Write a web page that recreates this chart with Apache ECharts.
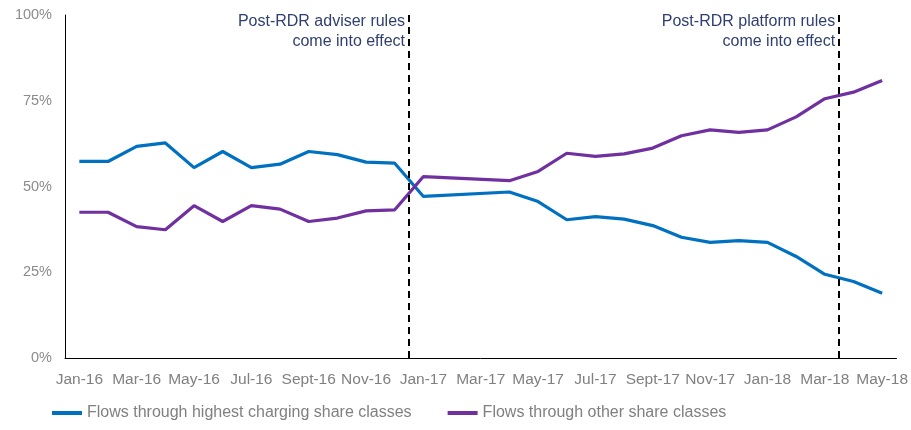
<!DOCTYPE html>
<html>
<head>
<meta charset="utf-8">
<script src="https://cdn.jsdelivr.net/npm/echarts@6/dist/echarts.min.js"></script>
<style>html,body{margin:0;padding:0;background:#fff;}#c{width:911px;height:430px;}</style>
</head>
<body>
<div id="c"></div>
<script>
const categories = ['Jan-16','Feb-16','Mar-16','Apr-16','May-16','Jun-16','Jul-16','Aug-16','Sept-16','Oct-16','Nov-16','Dec-16',
  'Jan-17','Feb-17','Mar-17','Apr-17','May-17','Jun-17','Jul-17','Aug-17','Sept-17','Oct-17','Nov-17','Dec-17',
  'Jan-18','Feb-18','Mar-18','Apr-18','May-18'];
const highestCharging = [57.3,57.3,61.7,62.7,55.5,60.2,55.5,56.5,60.2,59.3,57.1,56.8,
  47.1,null,null,48.4,45.6,40.3,41.2,40.5,38.6,35.2,33.7,34.2,
  33.7,29.6,24.4,22.3,18.9];
const otherClasses = [42.5,42.5,38.3,37.4,44.4,39.8,44.4,43.4,39.8,40.8,42.9,43.2,
  52.9,null,null,51.7,54.4,59.7,58.8,59.5,61.2,64.8,66.5,65.8,
  66.5,70.3,75.6,77.5,80.9];
const seriesNames = ['Flows through highest charging share classes','Flows through other share classes'];
const yTicks = [0,25,50,75,100];
const eventPositions = [12,27]; // boundary index (start of Jan-17, start of Apr-18)
const eventLabels = ['Post-RDR adviser rules\ncome into effect','Post-RDR platform rules\ncome into effect'];

const chart = echarts.init(document.getElementById('c'));
const font = 'Liberation Sans, Arial, sans-serif';
chart.setOption({
  animation:false,
  grid:{left:65,right:14,top:15,bottom:72},
  legend:{
    bottom:4,left:47,itemGap:36,itemWidth:30,itemHeight:4,icon:'rect',
    textStyle:{color:'#808080',fontSize:16,fontFamily:font},
    data:seriesNames
  },
  xAxis:[{
    type:'category',data:categories,boundaryGap:true,
    axisLine:{lineStyle:{color:'#000',width:1}},
    axisTick:{show:false},
    axisLabel:{interval:1,color:'#808080',fontSize:15.5,fontFamily:font,margin:14}
  },{
    type:'value',min:0,max:29,show:false
  }],
  yAxis:{
    type:'value',min:0,max:100,interval:25,
    axisLine:{show:true,lineStyle:{color:'#000',width:1}},
    axisTick:{show:false},
    splitLine:{show:false},
    axisLabel:{formatter:v=>v+'%',color:'#8c8c8c',fontSize:14.5,fontFamily:font,margin:13}
  },
  series:[{
    name:seriesNames[0],type:'line',data:highestCharging,connectNulls:true,
    symbol:'none',lineStyle:{color:'#0070C0',width:3.2},itemStyle:{color:'#0070C0'},z:3
  },{
    name:seriesNames[1],type:'line',data:otherClasses,connectNulls:true,
    symbol:'none',lineStyle:{color:'#7030A0',width:3.2},itemStyle:{color:'#7030A0'},z:3
  },{
    type:'line',xAxisIndex:1,data:[],
    markLine:{
      silent:true,symbol:'none',
      lineStyle:{color:'#000',type:[7,5],width:2},
      label:{show:false},
      data:eventPositions.map(p=>({xAxis:p}))
    },z:5
  }]
});
// annotation text placed to the left of each event line
const gs = eventPositions.map((p,i)=>{
  const px = chart.convertToPixel({xAxisIndex:1},p);
  return {type:'text',x:px-4,y:12,style:{text:eventLabels[i],fill:'#2F3F6F',font:'16px '+font,align:'right',verticalAlign:'top',lineHeight:19.5}};
});
chart.setOption({graphic:gs});
</script>
</body>
</html>
